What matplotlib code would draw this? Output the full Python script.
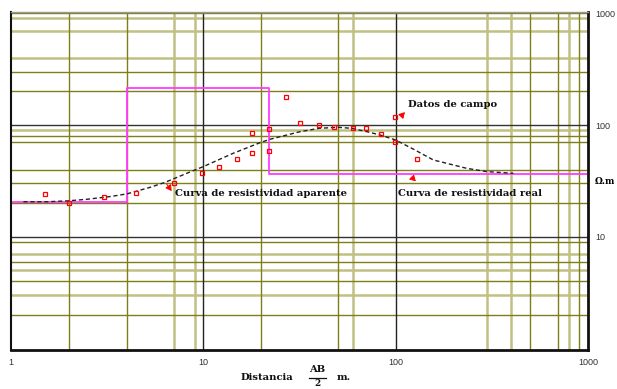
import matplotlib
matplotlib.use("Agg")
import matplotlib.pyplot as plt
from matplotlib.lines import Line2D

# --- data ---
campo_ab2 = [1.5, 2.0, 3.06, 4.47, 7.0, 9.9, 12.0, 14.9, 18.0, 18.0, 22.0, 22.0,
             26.9, 31.8, 40.0, 47.9, 59.8, 69.9, 83.6, 99.7, 99.7, 129.7]
campo_rho = [24.0, 19.95, 22.9, 24.5, 30.1, 37.0, 41.9, 50.0, 56.6, 85.5, 92.8, 58.2,
             177, 104, 99.5, 95.5, 93.5, 94.7, 82.7, 118.8, 70.5, 49.4]

aparente_ab2 = [1.16, 1.55, 2.0, 2.5, 3.27, 4.0, 5.28, 6.32, 8.2, 10.0, 14.3, 19.7,
                22.2, 31.8, 40.0, 50.0, 59.0, 70.8, 83.0, 100, 124, 157, 234, 298, 409]
aparente_rho = [20.6, 20.6, 21.0, 21.7, 22.9, 24.2, 27.7, 30.7, 37.0, 42.5, 55.9, 69.5,
                74.6, 87.2, 93.5, 95.5, 93.5, 87.3, 81.5, 73.5, 60.7, 48.7, 41.0, 38.3, 37.0]

# true resistivity (layered model)
real_ab2 = [1, 4.0, 4.0, 22.0, 22.0, 1000]
real_rho = [20.4, 20.4, 213, 213, 36.3, 36.3]

x_ticks = [1, 10, 100, 1000]
y_ticks = [10, 100, 1000]

# minor grid as it shows on the scanned paper (two tones of olive)
grid_x_dark = [2, 4, 20, 50, 500, 700, 900]
grid_x_light = [7, 9, 60, 300, 400, 800]
grid_y_dark = [2, 4, 6, 9, 20, 30, 40, 70, 80, 200, 300]
grid_y_light = [3, 5, 7, 90, 400, 700, 900]

# ============================================================================
# FIGURE
# ============================================================================
fig = plt.figure(figsize=(6.17, 3.89), dpi=100)
ax = fig.add_axes([11 / 617, 1 - 350 / 389, (588 - 11) / 617, (350 - 12) / 389])

ax.set_xscale("log")
ax.set_yscale("log")
ax.set_xlim(1, 1000)
ax.set_ylim(0.971, 1027)

olive = "#7f7f1a"
olive_light = "#c0c084"

for v in grid_x_dark:
    ax.axvline(v, color=olive, lw=1.0, zorder=0.6)
for v in grid_x_light:
    ax.axvline(v, color=olive_light, lw=1.8, zorder=0.5)
for v in grid_y_dark:
    ax.axhline(v, color=olive, lw=1.0, zorder=0.6)
for v in grid_y_light:
    ax.axhline(v, color=olive_light, lw=1.8, zorder=0.5)
for v in x_ticks[1:-1]:
    ax.axvline(v, color="#222222", lw=1.0, zorder=0.7)
for v in y_ticks:
    ax.axhline(v, color="#333333" if v < 1000 else olive, lw=1.0, zorder=0.7)

# curves
ax.plot(real_ab2, real_rho, color="#ff3cff", lw=1.3, zorder=2)
ax.plot(aparente_ab2, aparente_rho, color="#222222", lw=1.0,
        linestyle=(0, (3, 2)), zorder=3)
ax.plot(campo_ab2, campo_rho, linestyle="none", marker="s", ms=2.8,
        mfc="none", mec="red", mew=0.9, zorder=4)

# annotations
arrow = dict(arrowstyle="-|>,head_length=0.35,head_width=0.2", color="red", lw=0.7)
ax.annotate("", xy=(6.98, 24.5), xytext=(6.32, 31.1), arrowprops=arrow)
ax.annotate("", xy=(114.3, 136), xytext=(105.4, 117.3), arrowprops=arrow)
ax.annotate("", xy=(130.3, 30.1), xytext=(121.3, 34.1), arrowprops=arrow)

lbl = dict(fontfamily="DejaVu Serif", fontweight="bold", fontsize=7.2,
           va="center", ha="left", color="#111111", zorder=5)
ax.text(116, 154, "Datos de campo", **lbl)
ax.text(7.13, 24.2, "Curva de resistividad aparente", **lbl)
ax.text(102.9, 24.2, "Curva de resistividad real", **lbl)

# axes styling
ax.set_xticks(x_ticks)
ax.set_xticklabels([str(t) for t in x_ticks])
ax.set_yticks(y_ticks)
ax.set_yticklabels([str(t) for t in y_ticks])
ax.xaxis.set_minor_locator(matplotlib.ticker.NullLocator())
ax.yaxis.set_minor_locator(matplotlib.ticker.NullLocator())
ax.yaxis.tick_right()
ax.tick_params(length=0, labelsize=6.5, colors="#333333")
ax.tick_params(axis="x", pad=6)
ax.tick_params(axis="y", pad=5)
for lab in ax.get_xticklabels() + ax.get_yticklabels():
    lab.set_fontfamily("Liberation Sans")

ax.spines["left"].set_linewidth(1.5)
ax.spines["bottom"].set_linewidth(2.0)
ax.spines["right"].set_linewidth(2.0)
ax.spines["top"].set_color("#999999")
ax.spines["top"].set_linewidth(1.0)
for s in ("left", "bottom", "right"):
    ax.spines[s].set_color("#111111")

# axis titles
fig.text(615 / 617, 1 - 182 / 389, "Ω.m", fontfamily="DejaVu Serif",
         fontweight="bold", fontsize=6.4, va="center", ha="right")
tx = dict(fontfamily="DejaVu Serif", fontweight="bold", fontsize=7.2,
          va="center", color="#111111")
fig.text(241 / 617, 1 - 377 / 389, "Distancia", ha="left", **tx)
fig.text(317 / 617, 1 - 370 / 389, "AB", ha="center", **tx)
fig.text(317 / 617, 1 - 384 / 389, "2", ha="center",
         **{**tx, "fontsize": 6.4})
fig.text(337 / 617, 1 - 377 / 389, "m.", ha="left", **tx)
fig.add_artist(Line2D([309 / 617, 326 / 617], [1 - 377.5 / 389, 1 - 377.5 / 389],
                      color="#111111", lw=0.9, transform=fig.transFigure))

fig.savefig("out.png", dpi=100)
